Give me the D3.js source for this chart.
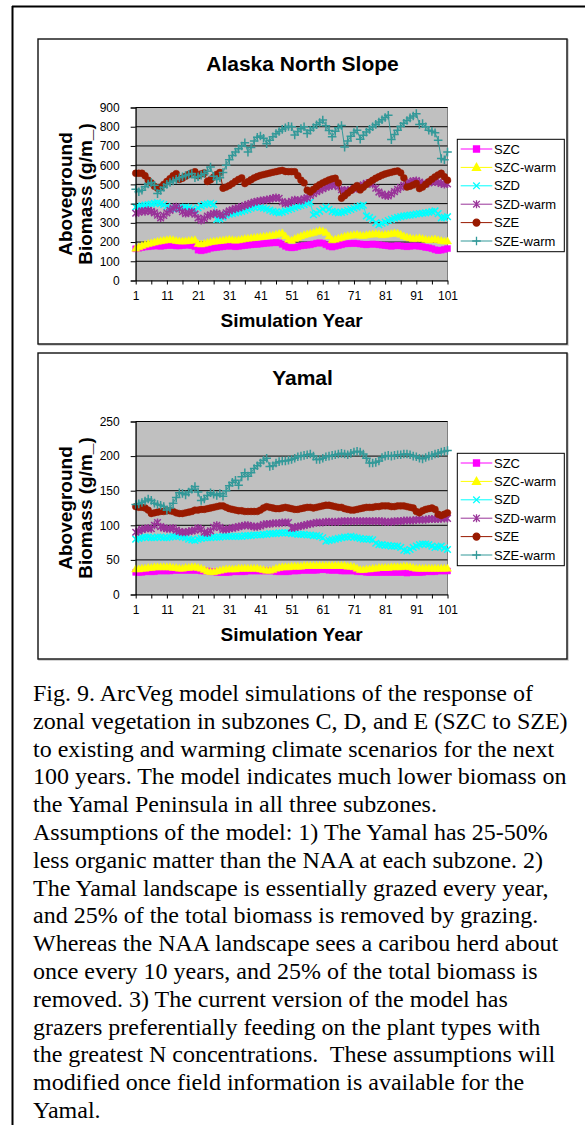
<!DOCTYPE html>
<html>
<head>
<meta charset="utf-8">
<script src="https://cdnjs.cloudflare.com/ajax/libs/d3/7.8.5/d3.min.js"></script>
<style>
    body { margin: 0; background: #fff; }
    svg { display: block; }
    .axis text { font-family: "Liberation Sans", Arial, sans-serif; font-size: 12px; fill: #000; }
    .axis path, .axis line { stroke: #000; }
</style>
</head>
<body>
<svg id="page" width="585" height="1125"></svg>
<script>
'use strict';

// categories / tick labels
const years = d3.range(1, 102);
const xTickValues = [1, 6, 11, 16, 21, 26, 31, 36, 41, 46, 51, 56, 61, 66, 71, 76, 81, 86, 91, 96, 101];
const xTickLabels = [1, 11, 21, 31, 41, 51, 61, 71, 81, 91, 101];
const akTicks = [0, 100, 200, 300, 400, 500, 600, 700, 800, 900];
const ymTicks = [0, 50, 100, 150, 200, 250];
const seriesNames = ['SZC', 'SZC-warm', 'SZD', 'SZD-warm', 'SZE', 'SZE-warm'];

// Alaska North Slope
const akSZC = [
    165, 168, 172, 175, 176, 178, 180, 180, 178, 180,
    182, 184, 182, 180, 180, 182, 184, 184, 182, 176,
    158, 155, 158, 162, 168, 170, 172, 174, 176, 178,
    180, 178, 176, 178, 180, 182, 184, 186, 188, 188,
    190, 192, 194, 195, 196, 198, 196, 188, 178, 172,
    170, 172, 176, 180, 182, 184, 186, 190, 194, 196,
    194, 186, 178, 174, 178, 182, 186, 190, 192, 192,
    194, 192, 190, 188, 186, 188, 190, 188, 186, 184,
    182, 180, 178, 180, 182, 180, 178, 176, 178, 180,
    180, 178, 176, 172, 170, 166, 160, 156, 158, 162, 166];
const akSZCwarm = [
    168, 175, 182, 188, 192, 196, 200, 204, 207, 210,
    212, 214, 212, 208, 206, 205, 206, 208, 210, 212,
    192, 190, 194, 198, 202, 204, 206, 208, 210, 212,
    214, 212, 210, 212, 215, 218, 220, 222, 224, 226,
    228, 230, 232, 234, 236, 240, 244, 248, 232, 215,
    210, 218, 225, 232, 238, 242, 246, 250, 255, 260,
    258, 250, 232, 212, 215, 220, 225, 230, 234, 236,
    238, 240, 236, 234, 238, 240, 242, 244, 242, 238,
    240, 242, 245, 248, 246, 240, 232, 226, 222, 218,
    220, 222, 218, 214, 212, 214, 216, 212, 208, 205, 206];
const akSZD = [
    382, 384, 388, 392, 395, 398, 402, 405, 400, 395,
    385, 375, 372, 374, 378, 380, 382, 378, 372, 366,
    378, 388, 395, 398, 402, 396, 318, 320, 330, 340,
    345, 348, 352, 356, 360, 365, 370, 376, 382, 384,
    380, 376, 372, 366, 360, 356, 352, 356, 362, 368,
    374, 380, 385, 390, 395, 402, 408, 342, 350, 360,
    372, 382, 370, 360, 356, 352, 354, 358, 364, 370,
    376, 382, 388, 392, 336, 328, 318, 300, 290, 298,
    304, 312, 318, 324, 328, 332, 336, 338, 340, 342,
    346, 348, 350, 352, 355, 358, 362, 348, 325, 328, 332];
const akSZDwarm = [
    350, 355, 362, 358, 365, 360, 352, 340, 325, 338,
    352, 365, 375, 384, 372, 358, 348, 352, 358, 345,
    325, 312, 322, 335, 342, 348, 350, 342, 338, 352,
    362, 368, 374, 378, 384, 390, 396, 402, 408, 412,
    415, 418, 420, 424, 428, 432, 428, 410, 400, 405,
    412, 420, 418, 415, 425, 430, 442, 452, 462, 470,
    478, 485, 490, 494, 498, 488, 472, 468, 470, 472,
    476, 482, 490, 498, 505, 508, 500, 480, 460, 450,
    442, 440, 450, 462, 474, 485, 496, 505, 512, 518,
    520, 512, 505, 502, 508, 512, 515, 510, 505, 500, 502];
const akSZE = [
    558, 558, 558, 545, 522, 508, 490, 480, 486, 500,
    515, 530, 545, 556, 526, 532, 542, 552, 560, 566,
    545, 555, 560, 515, 524, 538, 552, 562, 480, 486,
    494, 504, 516, 526, 534, 504, 514, 524, 534, 541,
    547, 551, 555, 559, 563, 566, 570, 573, 567, 566,
    566, 566, 545, 522, 508, 470, 460, 474, 488, 499,
    508, 516, 523, 529, 532, 508, 428, 441, 455, 468,
    481, 494, 471, 485, 499, 511, 522, 532, 540, 548,
    554, 559, 563, 567, 570, 560, 534, 486, 490, 497,
    505, 478, 486, 500, 514, 527, 539, 549, 558, 540, 522];
const akSZEwarm = [
    475, 462, 470, 488, 502, 510, 495, 452, 468, 485,
    500, 510, 518, 526, 534, 540, 546, 552, 556, 535,
    540, 548, 556, 568, 590, 542, 525, 535, 562, 600,
    628, 650, 668, 685, 700, 716, 668, 692, 726, 745,
    752, 740, 712, 730, 748, 764, 775, 786, 795, 802,
    800, 757, 775, 790, 800, 765, 782, 796, 810, 822,
    835, 805, 780, 748, 776, 795, 806, 694, 726, 750,
    770, 782, 735, 756, 772, 786, 800, 812, 824, 836,
    848, 860, 733, 760, 782, 802, 818, 832, 846, 856,
    868, 812, 816, 800, 782, 776, 768, 730, 635, 628, 668];

// Yamal
const ymSZC = [
    32, 32, 32, 33, 33, 33, 33, 34, 34, 34,
    34, 34, 35, 35, 35, 35, 35, 35, 35, 35,
    35, 34, 34, 34, 33, 33, 32, 32, 32, 32,
    32, 33, 33, 33, 33, 33, 34, 34, 34, 34,
    34, 34, 34, 34, 34, 33, 33, 33, 33, 33,
    34, 34, 34, 35, 35, 35, 35, 35, 35, 36,
    36, 36, 35, 35, 35, 35, 34, 34, 34, 34,
    34, 33, 33, 33, 32, 32, 32, 32, 32, 32,
    32, 32, 32, 32, 32, 32, 32, 31, 32, 32,
    32, 32, 32, 33, 33, 33, 33, 34, 34, 34, 34];
const ymSZCwarm = [
    37, 37, 38, 38, 39, 39, 40, 40, 40, 40,
    40, 40, 39, 39, 38, 38, 39, 39, 40, 40,
    39, 38, 36, 34, 33, 33, 34, 35, 36, 37,
    37, 37, 37, 38, 38, 38, 38, 38, 38, 38,
    37, 36, 35, 35, 36, 38, 39, 40, 40, 40,
    41, 41, 41, 41, 42, 42, 42, 42, 42, 42,
    42, 42, 42, 42, 42, 42, 42, 42, 41, 41,
    40, 38, 36, 36, 37, 37, 38, 38, 39, 39,
    39, 39, 40, 40, 40, 40, 41, 41, 40, 39,
    38, 38, 38, 38, 38, 38, 38, 38, 38, 38, 38];
const ymSZD = [
    80, 81, 82, 83, 83, 82, 82, 83, 83, 82,
    82, 83, 84, 84, 84, 83, 82, 80, 79, 78,
    80, 81, 82, 82, 82, 83, 83, 83, 84, 84,
    84, 84, 84, 84, 84, 85, 85, 85, 86, 86,
    86, 87, 87, 88, 88, 88, 89, 89, 89, 89,
    88, 88, 87, 87, 87, 86, 86, 85, 85, 84,
    82, 77, 78, 79, 80, 81, 82, 83, 83, 84,
    83, 82, 81, 80, 80, 80, 79, 74, 72, 72,
    71, 71, 70, 70, 70, 68, 64, 63, 65, 68,
    70, 72, 73, 73, 72, 70, 68, 69, 70, 67, 65];
const ymSZDwarm = [
    90, 92, 94, 95, 96, 95, 100, 104, 98, 96,
    95, 95, 96, 93, 91, 90, 90, 91, 92, 93,
    96, 94, 90, 89, 92, 97, 100, 97, 94, 94,
    95, 96, 97, 98, 99, 100, 100, 99, 98, 98,
    99, 101, 102, 102, 103, 103, 103, 104, 104, 104,
    96, 97, 98, 99, 100, 101, 102, 103, 104, 104,
    104, 105, 105, 105, 105, 105, 106, 106, 106, 106,
    106, 106, 106, 106, 106, 106, 106, 106, 106, 106,
    105, 105, 105, 106, 106, 106, 107, 107, 107, 107,
    108, 108, 108, 108, 109, 109, 109, 109, 110, 110, 110];
const ymSZE = [
    127, 126, 126, 125, 122, 117, 118, 119, 120, 120,
    121, 121, 120, 118, 117, 117, 118, 119, 120, 122,
    122, 123, 123, 124, 125, 126, 127, 128, 128, 126,
    124, 123, 122, 121, 121, 120, 120, 120, 120, 120,
    122, 125, 127, 126, 125, 124, 124, 125, 126, 125,
    124, 123, 123, 124, 125, 126, 126, 125, 126, 127,
    128, 129, 129, 128, 127, 126, 126, 124, 123, 122,
    122, 123, 124, 125, 126, 126, 126, 127, 127, 128,
    128, 128, 127, 127, 128, 128, 128, 127, 126, 125,
    120, 118, 121, 123, 124, 125, 123, 116, 114, 116, 118];
const ymSZEwarm = [
    130, 131, 133, 135, 138, 136, 132, 130, 129, 127,
    122, 125, 132, 140, 147, 146, 144, 148, 152, 156,
    148, 136, 138, 143, 147, 145, 143, 146, 142, 150,
    157, 162, 165, 158, 170, 176, 171, 176, 182, 186,
    190, 194, 197, 185, 186, 190, 192, 193, 193, 194,
    195, 197, 199, 200, 201, 202, 203, 200, 195, 195,
    197, 199, 200, 201, 202, 203, 204, 203, 202, 204,
    206, 207, 206, 203, 197, 190, 190, 191, 193, 198,
    200, 201, 200, 201, 202, 202, 203, 203, 202, 200,
    199, 197, 196, 198, 200, 201, 203, 204, 206, 207, 208];

const captionLines = [
    'Fig. 9. ArcVeg model simulations of the response of',
    'zonal vegetation in subzones C, D, and E (SZC to SZE)',
    'to existing and warming climate scenarios for the next',
    '100 years. The model indicates much lower biomass on',
    'the Yamal Peninsula in all three subzones.',
    'Assumptions of the model: 1) The Yamal has 25-50%',
    'less organic matter than the NAA at each subzone. 2)',
    'The Yamal landscape is essentially grazed every year,',
    'and 25% of the total biomass is removed by grazing.',
    'Whereas the NAA landscape sees a caribou herd about',
    'once every 10 years, and 25% of the total biomass is',
    'removed. 3) The current version of the model has',
    'grazers preferentially feeding on the plant types with',
    'the greatest N concentrations.  These assumptions will',
    'modified once field information is available for the',
    'Yamal.'
];

// series look, in draw order
const styles = [
    {color: '#ff00ff', marker: 'square'},
    {color: '#ffff00', marker: 'triangle'},
    {color: '#00ffff', marker: 'x'},
    {color: '#993399', marker: 'star'},
    {color: '#991a00', marker: 'circle'},
    {color: '#339999', marker: 'plus'}
];

const markerPaths = {
    square: 'M-3,-3h6v6h-6z',
    triangle: 'M0,-4L4,3L-4,3Z',
    x: 'M-3.3,-3.3L3.3,3.3M-3.3,3.3L3.3,-3.3',
    star: 'M-3.3,-3.3L3.3,3.3M-3.3,3.3L3.3,-3.3M0,-4V4',
    circle: 'M3.4,0A3.4,3.4,0,1,1,-3.4,0A3.4,3.4,0,1,1,3.4,0Z',
    plus: 'M-4.3,0H4.3M0,-4.3V4.3'
};
const filledMarkers = ['square', 'triangle', 'circle'];

class BiomassChart {

    constructor (svg, top, height)
    {
        this.svg = svg;
        this.top = top;
        this.height = height;
        this.frame = {left: 38, right: 567};
        this.plot = {left: 135.7, right: 447.5, top: top + 68.5, bottom: top + 241.5};
        this.font = '"Liberation Sans", Arial, sans-serif';
    }

    setData (seriesList, ticks)
    {
        this.series = seriesList.map((values, i) => ({name: seriesNames[i], values: values, style: styles[i]}));
        this.ticks = ticks;
        return this;
    }

    drawFrame ()
    {
        this.svg.append('rect')
            .attr('x', this.frame.left + 1).attr('y', this.top + 1)
            .attr('width', this.frame.right - this.frame.left).attr('height', this.height)
            .attr('fill', 'none').attr('stroke', '#c8c8c8').attr('stroke-width', 1.5);
        this.svg.append('rect')
            .attr('x', this.frame.left).attr('y', this.top)
            .attr('width', this.frame.right - this.frame.left).attr('height', this.height)
            .attr('fill', '#fff').attr('stroke', '#111').attr('stroke-width', 1.4);
    }

    buildScales ()
    {
        this.xScale = d3.scaleLinear().domain([1, 101]).range([this.plot.left, this.plot.right]);
        this.yScale = d3.scaleLinear()
            .domain([0, this.ticks[this.ticks.length - 1]])
            .range([this.plot.bottom, this.plot.top]);
    }

    drawPlotArea ()
    {
        let p = this.plot;
        this.svg.append('rect')
            .attr('x', p.left).attr('y', p.top)
            .attr('width', p.right - p.left).attr('height', p.bottom - p.top)
            .attr('fill', '#c0c0c0').attr('stroke', '#808080').attr('stroke-width', 1);

        this.svg.append('g')
            .selectAll('line')
            .data(this.ticks.slice(1))
            .enter()
            .append('line')
            .attr('x1', p.left).attr('x2', p.right)
            .attr('y1', d => this.yScale(d)).attr('y2', d => this.yScale(d))
            .attr('stroke', '#000').attr('stroke-width', 1);
    }

    drawAxes ()
    {
        let yAxis = d3.axisLeft(this.yScale)
            .tickValues(this.ticks)
            .tickSize(5)
            .tickPadding(11)
            .tickFormat(d3.format('d'));
        this.svg.append('g')
            .attr('class', 'axis')
            .attr('transform', 'translate(' + this.plot.left + ',0)')
            .call(yAxis);

        let xAxis = d3.axisBottom(this.xScale)
            .tickValues(xTickValues)
            .tickSize(4)
            .tickSizeOuter(0)
            .tickPadding(7)
            .tickFormat(d => xTickLabels.indexOf(d) >= 0 ? d : '');
        this.svg.append('g')
            .attr('class', 'axis')
            .attr('transform', 'translate(0,' + this.plot.bottom + ')')
            .call(xAxis);
    }

    drawSeries ()
    {
        let line = d3.line()
            .x((d, i) => this.xScale(years[i]))
            .y(d => this.yScale(d));

        this.series.forEach(s => {
            let g = this.svg.append('g').attr('class', 'series');
            let filled = filledMarkers.indexOf(s.style.marker) >= 0;
            g.append('path')
                .attr('d', line(s.values))
                .attr('fill', 'none')
                .attr('stroke', s.style.color)
                .attr('stroke-width', 1);
            g.selectAll('path.mark')
                .data(s.values)
                .enter()
                .append('path')
                .attr('class', 'mark')
                .attr('d', markerPaths[s.style.marker])
                .attr('transform', (d, i) => 'translate(' + this.xScale(years[i]) + ',' + this.yScale(d) + ')')
                .attr('fill', filled ? s.style.color : 'none')
                .attr('stroke', s.style.color)
                .attr('stroke-width', filled ? 0.5 : 1.5);
        });
    }

    drawTexts (title)
    {
        let midFrame = (this.frame.left + this.frame.right) / 2;
        let midPlot = (this.plot.left + this.plot.right) / 2;
        let midY = (this.plot.top + this.plot.bottom) / 2;

        this.svg.append('text')
            .attr('x', midFrame).attr('y', this.top + 31.5)
            .attr('text-anchor', 'middle')
            .style('font-family', this.font).style('font-size', '21px').style('font-weight', 'bold')
            .text(title);

        this.svg.append('text')
            .attr('x', midPlot).attr('y', this.top + 288)
            .attr('text-anchor', 'middle')
            .style('font-family', this.font).style('font-size', '19px').style('font-weight', 'bold')
            .text('Simulation Year');

        ['Aboveground', 'Biomass (g/m_)'].forEach((t, i) => {
            this.svg.append('text')
                .attr('transform', 'translate(' + (71.5 + i * 20.5) + ',' + midY + ') rotate(-90)')
                .attr('text-anchor', 'middle')
                .style('font-family', this.font).style('font-size', '19px').style('font-weight', 'bold')
                .text(t);
        });
    }

    drawLegend ()
    {
        let top = this.top + 100.3;
        let left = 457.3, w = 107, h = 112.4, step = 18.4;
        let g = this.svg.append('g');
        g.append('rect')
            .attr('x', left).attr('y', top).attr('width', w).attr('height', h)
            .attr('fill', '#fff').attr('stroke', '#000').attr('stroke-width', 1);

        let items = g.selectAll('g.item')
            .data(this.series)
            .enter()
            .append('g')
            .attr('class', 'item')
            .attr('transform', (d, i) => 'translate(0,' + (top + 9.7 + i * step) + ')');

        items.append('line')
            .attr('x1', 460.7).attr('x2', 492.3)
            .attr('stroke', d => d.style.color).attr('stroke-width', 1);
        items.append('path')
            .attr('transform', 'translate(476.5,0)')
            .attr('d', d => markerPaths[d.style.marker])
            .attr('fill', d => filledMarkers.indexOf(d.style.marker) >= 0 ? d.style.color : 'none')
            .attr('stroke', d => d.style.color)
            .attr('stroke-width', 1.3);
        items.append('text')
            .attr('x', 494).attr('y', 4.6)
            .style('font-family', this.font).style('font-size', '13px')
            .text(d => d.name);
    }

    build (title)
    {
        this.drawFrame();
        this.buildScales();
        this.drawPlotArea();
        this.drawSeries();
        this.drawAxes();
        this.drawTexts(title);
        this.drawLegend();
        return this;
    }
}

const svg = d3.select('#page');

// outer border of the page box
svg.append('line').attr('x1', 12).attr('x2', 585).attr('y1', 6.5).attr('y2', 6.5)
    .attr('stroke', '#000').attr('stroke-width', 2);
svg.append('line').attr('x1', 12.5).attr('x2', 12.5).attr('y1', 6).attr('y2', 1125)
    .attr('stroke', '#000').attr('stroke-width', 2);

new BiomassChart(svg, 39, 305)
    .setData([akSZC, akSZCwarm, akSZD, akSZDwarm, akSZE, akSZEwarm], akTicks)
    .build('Alaska North Slope');

new BiomassChart(svg, 353, 306)
    .setData([ymSZC, ymSZCwarm, ymSZD, ymSZDwarm, ymSZE, ymSZEwarm], ymTicks)
    .build('Yamal');

svg.append('g')
    .selectAll('text')
    .data(captionLines)
    .enter()
    .append('text')
    .attr('x', 33)
    .attr('y', (d, i) => 701 + i * 27.8)
    .style('font-family', '"Liberation Serif", "Times New Roman", serif')
    .style('font-size', '24px')
    .style('white-space', 'pre')
    .text(d => d);
</script>
</body>
</html>
